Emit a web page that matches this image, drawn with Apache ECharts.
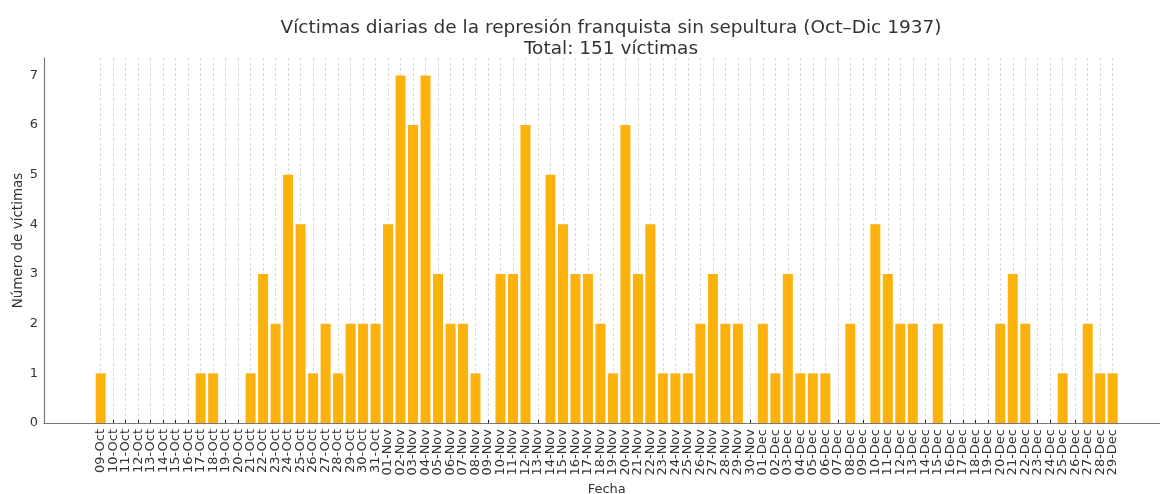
<!DOCTYPE html>
<html>
<head>
<meta charset="utf-8">
<script src="https://cdn.jsdelivr.net/npm/echarts@6/dist/echarts.min.js"></script>
<style>
  html, body { margin: 0; padding: 0; background: #fff; }
  #chart { width: 1160px; height: 494px; }
</style>
</head>
<body>
<div id="chart"></div>
<script>
// fechas (09-Oct .. 29-Dec 1937), una por día
const octDays = ['09','10','11','12','13','14','15','16','17','18','19','20','21','22','23','24','25','26','27','28','29','30','31']
const novDays = ['01','02','03','04','05','06','07','08','09','10','11','12','13','14','15','16','17','18','19','20','21','22','23','24','25','26','27','28','29','30']
const decDays = ['01','02','03','04','05','06','07','08','09','10','11','12','13','14','15','16','17','18','19','20','21','22','23','24','25','26','27','28','29']

const fechas = [
  ...octDays.map(d => d + '-Oct'),
  ...novDays.map(d => d + '-Nov'),
  ...decDays.map(d => d + '-Dec'),
]

// víctimas por día
const victimasOct = [1,0,0,0,0,0,0,0,1,1,0,0,1,3,2,5,4,1,2,1,2,2,2]
const victimasNov = [4,7,6,7,3,2,2,1,0,3,3,6,0,5,4,3,3,2,1,6,3,4,1,1,1,2,3,2,2,0]
const victimasDec = [2,1,3,1,1,1,0,2,0,4,3,2,2,0,2,0,0,0,0,2,3,2,0,0,1,0,2,1,1]
const victimas = [...victimasOct, ...victimasNov, ...victimasDec]

const yTicks = [0, 1, 2, 3, 4, 5, 6, 7]
const yMax = 7.35

const TEXT = '#333'
const FONT = 'DejaVu Sans'

const chart = echarts.init(document.getElementById('chart'), null, { renderer: 'canvas' })

const total = victimas.reduce((a, b) => a + b, 0)

const option = {
  animation: false,
  backgroundColor: '#fff',
  textStyle: { fontFamily: FONT, color: TEXT },
  title: {
    text: 'Víctimas diarias de la represión franquista sin sepultura (Oct–Dic 1937)\nTotal: ' + total + ' víctimas',
    left: 606, top: 13,
    textAlign: 'center',
    textStyle: { fontFamily: FONT, fontSize: 18.5, fontWeight: 'normal', color: TEXT, lineHeight: 21 },
  },
  grid: [
    // marco exterior: ejes izquierdo e inferior
    { left: 44, right: -20, top: 58, bottom: 71, outerBoundsMode: 'none', containLabel: false },
    // barras
    { left: 94.45, width: 1024.5, top: 58, bottom: 71, outerBoundsMode: 'none', containLabel: false },
  ],
  xAxis: [
    {
      type: 'value', gridIndex: 0, min: 0, max: 1,
      axisLine: { show: true, lineStyle: { color: '#777', width: 1.2 } },
      axisTick: { show: false }, axisLabel: { show: false }, splitLine: { show: false },
    },
    {
      type: 'category', gridIndex: 1, data: fechas,
      name: 'Fecha', nameLocation: 'middle', nameGap: 60, nameMoveOverlap: false,
      nameTextStyle: { fontFamily: FONT, fontSize: 13, color: TEXT },
      axisLine: { show: false },
      axisTick: { show: true, inside: true, length: 3, alignWithLabel: true, interval: 0,
                  lineStyle: { color: '#222', width: 1 } },
      axisLabel: { interval: 0, rotate: 90, fontFamily: FONT, fontSize: 13, color: TEXT, margin: 6 },
      splitLine: { show: true, alignWithLabel: true, interval: 0,
                   lineStyle: { color: '#d0d0d0', type: [3, 2], width: 0.8 } },
    },
  ],
  yAxis: [
    {
      type: 'value', gridIndex: 0, min: 0, max: yMax, interval: 1,
      name: 'Número de víctimas', nameLocation: 'middle', nameGap: 19, nameMoveOverlap: false,
      nameTextStyle: { fontFamily: FONT, fontSize: 13.5, color: TEXT },
      axisLine: { show: true, lineStyle: { color: '#777', width: 1.2 } },
      axisTick: { show: false },
      axisLabel: {
        fontFamily: FONT, fontSize: 13, color: TEXT, margin: 6,
        formatter: v => (yTicks.includes(v) ? String(v) : ''),
      },
      splitLine: { show: false },
    },
    {
      type: 'value', gridIndex: 1, min: 0, max: yMax, show: false,
    },
  ],
  series: [
    {
      type: 'bar', xAxisIndex: 1, yAxisIndex: 1,
      data: victimas,
      barCategoryGap: '20%',
      itemStyle: { color: '#FDB10C', borderWidth: 0 },
    },
  ],
}

chart.setOption(option)
</script>
</body>
</html>
